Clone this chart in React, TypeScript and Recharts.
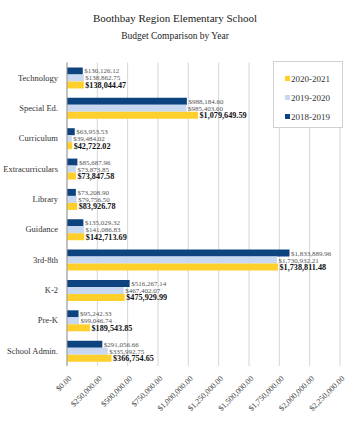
import React from 'react';
import { BarChart, Bar, XAxis, YAxis, CartesianGrid, LabelList } from 'recharts';

const categories = ['Technology', 'Special Ed.', 'Curriculum', 'Extracurriculars', 'Library', 'Guidance', '3rd-8th', 'K-2', 'Pre-K', 'School Admin.'];
const y2018 = [130126.12, 988184.6, 63953.53, 85687.96, 73208.9, 135029.32, 1833889.96, 516267.14, 95242.33, 291056.66];
const y2019 = [138862.75, 985403.6, 39484.02, 73873.85, 79756.5, 141086.83, 1730932.21, 467402.07, 99046.74, 335992.75];
const y2020 = [138044.47, 1079649.59, 42722.02, 73847.58, 83926.78, 142713.69, 1738811.48, 475929.99, 189543.85, 366754.65];
const xTicks = [0, 250000, 500000, 750000, 1000000, 1250000, 1500000, 1750000, 2000000, 2250000];
const seriesNames = ['2018-2019', '2019-2020', '2020-2021'];

const data = categories.map((c, i) => ({ name: c, a: y2018[i], b: y2019[i], c: y2020[i] }));

const FONT = '"Liberation Serif", "Times New Roman", serif';
const C2018 = '#0D437F';
const C2019 = '#C8D8F1';
const C2020 = '#FFD02C';

const money = (v: number) =>
  '$' + v.toLocaleString('en-US', { minimumFractionDigits: 2, maximumFractionDigits: 2 });

const makeLabel = (bold: boolean) => (props: any) => {
  const { x, y, width, height, value } = props;
  return (
    <text
      x={x + width + 1.5}
      y={y + height / 2}
      dy="0.35em"
      fontFamily={FONT}
      fontSize={bold ? 8.2 : 7}
      fontWeight={bold ? 'bold' : 'normal'}
      fill={bold ? '#111' : '#555'}
    >
      {money(value)}
    </text>
  );
};

const XTick = (props: any) => {
  const { x, y, payload } = props;
  return (
    <text
      x={x + 3}
      y={y + 3}
      transform={`rotate(-45, ${x + 3}, ${y + 3})`}
      textAnchor="end"
      dy="0.35em"
      fontFamily={FONT}
      fontSize={8}
      fill="#444"
    >
      {money(payload.value)}
    </text>
  );
};

const YTick = (props: any) => {
  const { x, y, payload } = props;
  return (
    <text x={x - 1} y={y} dy="0.35em" textAnchor="end" fontFamily={FONT} fontSize={8.5} fill="#333">
      {payload.value}
    </text>
  );
};

const LegendBox = () => {
  const items = [
    { label: seriesNames[2], color: C2020 },
    { label: seriesNames[1], color: C2019 },
    { label: seriesNames[0], color: C2018 },
  ];
  return (
    <div
      style={{
        position: 'absolute',
        left: 273,
        top: 61,
        width: 70,
        height: 67,
        border: '1px solid #d0d0d0',
        background: '#fff',
        boxSizing: 'border-box',
        paddingTop: 7,
        fontFamily: FONT,
        fontSize: 9,
        color: '#333',
      }}
    >
      {items.map((it) => (
        <div key={it.label} style={{ display: 'flex', alignItems: 'center', height: 19, paddingLeft: 11 }}>
          <span style={{ width: 5, height: 5, background: it.color, display: 'inline-block', marginRight: 1 }} />
          <span>{it.label}</span>
        </div>
      ))}
    </div>
  );
};

export default function App() {
  return (
    <div style={{ position: 'absolute', left: 0, top: 0, width: 350, height: 421, background: '#fff', fontFamily: FONT }}>
      <div style={{ position: 'absolute', left: 0, width: 350, top: 12, textAlign: 'center', fontSize: 11, color: '#222' }}>
        Boothbay Region Elementary School
      </div>
      <div style={{ position: 'absolute', left: 0, width: 350, top: 31, textAlign: 'center', fontSize: 9.5, color: '#222' }}>
        Budget Comparison by Year
      </div>
      <div style={{ position: 'absolute', left: 0, top: 0 }}>
        <BarChart
          width={350}
          height={421}
          data={data}
          layout="vertical"
          margin={{ top: 62.5, right: 10, bottom: 0, left: 0 }}
          barGap={0}
          barSize={7}
        >
          <CartesianGrid horizontal={false} stroke="#d6d6d6" />
          <XAxis
            type="number"
            domain={[0, 2250000]}
            ticks={xTicks}
            interval={0}
            height={55}
            axisLine={false}
            tickLine={false}
            tick={<XTick />}
          />
          <YAxis
            type="category"
            dataKey="name"
            width={67}
            axisLine={{ stroke: '#999' }}
            tickLine={false}
            tick={<YTick />}
          />
          <Bar dataKey="a" name={seriesNames[0]} fill={C2018} isAnimationActive={false}>
            <LabelList dataKey="a" content={makeLabel(false)} />
          </Bar>
          <Bar dataKey="b" name={seriesNames[1]} fill={C2019} isAnimationActive={false}>
            <LabelList dataKey="b" content={makeLabel(false)} />
          </Bar>
          <Bar dataKey="c" name={seriesNames[2]} fill={C2020} isAnimationActive={false}>
            <LabelList dataKey="c" content={makeLabel(true)} />
          </Bar>
        </BarChart>
      </div>
      <LegendBox />
    </div>
  );
}
